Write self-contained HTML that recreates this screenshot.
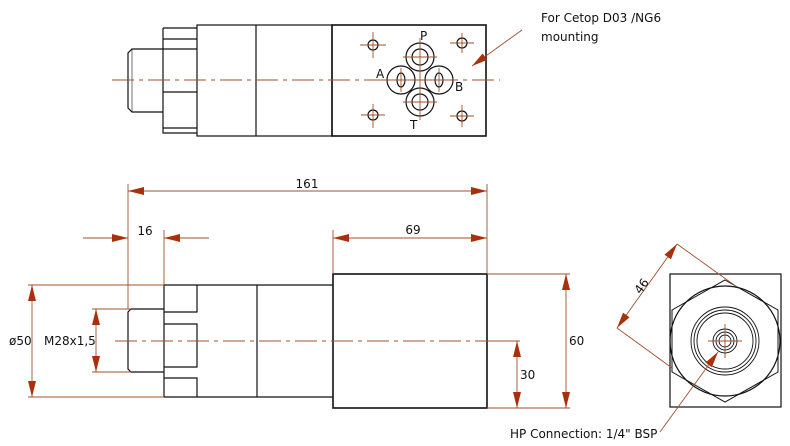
<!DOCTYPE html>
<html><head><meta charset="utf-8"><style>
html,body{margin:0;padding:0;background:#fff;}
svg{display:block;}
text{font-family:"DejaVu Sans","Liberation Sans",sans-serif;font-size:12px;fill:#111;}
</style></head><body>
<svg width="790" height="446" viewBox="0 0 790 446" xmlns="http://www.w3.org/2000/svg">
<defs>
<marker id="a" viewBox="0 0 16 8" refX="16" refY="4" markerWidth="16" markerHeight="8" markerUnits="userSpaceOnUse" orient="auto-start-reverse">
<path d="M0,0 L16,4 L0,8 Z" fill="#a8300c"/>
</marker>
</defs>
<g fill="none" stroke="#111" stroke-width="1.2">
<!-- TOP VIEW -->
<rect x="332" y="25" width="154" height="111" stroke-width="1.6"/>
<rect x="197" y="25" width="135" height="111"/>
<line x1="256" y1="25" x2="256" y2="136"/>
<path d="M163,28 H197 M163,28 V133 H197 M163,39 H197 M163,49 H197 M163,92 H197 M163,128 H197"/>
<path d="M163,49 H132 L128,53 V108 L132,112 H163"/>
<line x1="132" y1="49" x2="132" y2="112" stroke-width="0.6"/>
<circle cx="420" cy="57" r="14"/><circle cx="420" cy="57" r="8"/>
<circle cx="420" cy="102" r="14"/><circle cx="420" cy="102" r="8"/>
<circle cx="401" cy="80" r="14"/><ellipse cx="401" cy="80" rx="4" ry="7"/>
<circle cx="439" cy="80" r="14"/><ellipse cx="439" cy="80" rx="4" ry="7"/>
<circle cx="373" cy="45" r="5"/><circle cx="462" cy="43" r="5"/>
<circle cx="373" cy="115" r="5"/><circle cx="462" cy="116" r="5"/>
<!-- BOTTOM VIEW -->
<rect x="333" y="274" width="154" height="134" stroke-width="1.6"/>
<path d="M164,285 H333 M164,397 H333 M164,285 V397 M257,285 V397"/>
<path d="M164,312 H197 V285 M164,324 H197 V367 H164 M164,378 H197 V397"/>
<path d="M164,309 H131 L128,312 V369 L131,372 H164"/>
<!-- RIGHT VIEW -->
<rect x="670" y="274" width="111" height="133"/>
<circle cx="725" cy="341" r="55"/>
<polygon points="725,280 778,310 778,372 725,402 672,372 672,310" stroke-width="1"/>
<circle cx="725" cy="341" r="34" stroke-width="0.9"/>
<circle cx="725" cy="341" r="31" stroke-width="0.9"/>
<circle cx="725" cy="341" r="28" stroke-width="0.9"/>
<circle cx="725" cy="341" r="12" stroke-width="0.9"/>
<circle cx="725" cy="341" r="9" stroke-width="0.9"/>
<circle cx="725" cy="341" r="6" stroke-width="0.9"/>
</g>
<g fill="none" stroke="#a0502c" stroke-width="0.9">
<line x1="112" y1="80" x2="500" y2="80" stroke-dasharray="22,5,4,5"/>
<line x1="115" y1="341" x2="518" y2="341" stroke-dasharray="22,5,4,5"/>
<path d="M420,38 V120 M403,57 H437 M403,102 H437 M382,80 H458 M401,68 V92 M439,68 V92"/>
<path d="M360,45 H386 M373,32 V58 M450,43 H474 M462,33 V53 M361,115 H385 M373,104 V128 M450,116 H474 M462,105 V127"/>
<path d="M708,341 H742 M725,324 V358"/>
<path d="M128,184 V309 M487,184 V274 M164,230 V285 M333,230 V274"/>
<line x1="128" y1="191" x2="487" y2="191" marker-start="url(#a)" marker-end="url(#a)"/>
<line x1="83" y1="238" x2="128" y2="238" marker-end="url(#a)"/>
<line x1="209" y1="238" x2="164" y2="238" marker-end="url(#a)"/>
<line x1="333" y1="238" x2="487" y2="238" marker-start="url(#a)" marker-end="url(#a)"/>
<path d="M28,285 H164 M28,397 H164 M92,309 H131 M92,372 H131"/>
<line x1="32" y1="285" x2="32" y2="397" marker-start="url(#a)" marker-end="url(#a)"/>
<line x1="96" y1="309" x2="96" y2="372" marker-start="url(#a)" marker-end="url(#a)"/>
<path d="M487,274 H570 M487,408 H570 M487,341 H520"/>
<line x1="566" y1="274" x2="566" y2="408" marker-start="url(#a)" marker-end="url(#a)"/>
<line x1="517" y1="341" x2="517" y2="408" marker-start="url(#a)" marker-end="url(#a)"/>
<path d="M677,244 L737,287 M617,328 L672,368"/>
<line x1="677" y1="244" x2="617" y2="328" marker-start="url(#a)" marker-end="url(#a)"/>
<line x1="660" y1="432" x2="718" y2="352" marker-end="url(#a)"/>
<line x1="522" y1="30" x2="472" y2="66" marker-end="url(#a)"/>
</g>
<text x="541" y="22">For Cetop D03 /NG6</text>
<text x="541" y="41">mounting</text>
<text x="420" y="40">P</text>
<text x="376" y="78">A</text>
<text x="455" y="91">B</text>
<text x="410" y="129">T</text>
<text x="307" y="188" text-anchor="middle">161</text>
<text x="145" y="235" text-anchor="middle">16</text>
<text x="413" y="234" text-anchor="middle">69</text>
<text x="9" y="345">ø50</text>
<text x="44" y="345">M28x1,5</text>
<text x="569" y="345">60</text>
<text x="520" y="379">30</text>
<text x="640" y="291" transform="rotate(-54 640 285)" text-anchor="middle">46</text>
<text x="510" y="438">HP Connection: 1/4" BSP</text>
</svg>
</body></html>
